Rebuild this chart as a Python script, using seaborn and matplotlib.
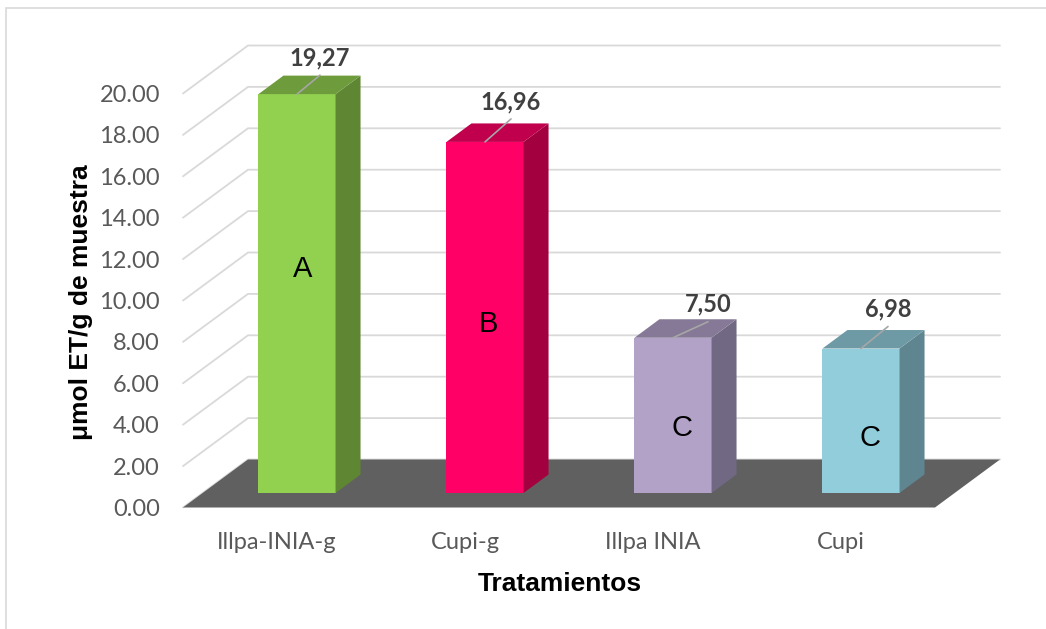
import matplotlib
matplotlib.use("Agg")
import matplotlib.pyplot as plt
import seaborn as sns
from matplotlib.patches import Polygon, Rectangle

# --- data -------------------------------------------------------------
tratamientos = ["Illpa-INIA-g", "Cupi-g", "Illpa INIA", "Cupi"]
valores = [19.27, 16.96, 7.50, 6.98]
etiquetas = ["19,27", "16,96", "7,50", "6,98"]
letras = ["A", "B", "C", "C"]
yticks = [0, 2, 4, 6, 8, 10, 12, 14, 16, 18, 20]

# --- style ------------------------------------------------------------
front_colors = ["#92D050", "#FF0066", "#B3A2C7", "#92CDDC"]
side_colors = ["#5F8733", "#A3003F", "#716883", "#5E8590"]
top_colors = ["#6E9B3B", "#C0004D", "#867997", "#6E9AA6"]
floor_color = "#606060"
grid_color = "#D9D9D9"

# letter placement: baseline height (data units) and horizontal nudge (px)
letra_base = [10.45, 7.8, 2.75, 2.27]
letra_dx = [6, 3, 9, 9]
# leader line vectors for the value labels (px)
leader = [(23, 19), (26, 23), (35, 16), (27, 22)]

W, H, DPI = 1046, 629, 100
sns.set_theme(style="white")
plt.rcParams["font.family"] = ["Lato", "DejaVu Sans"]

fig = plt.figure(figsize=(W / DPI, H / DPI), dpi=DPI)
fig.patch.set_facecolor("white")

# floor front edge: left 183px, right 935px, baseline 507.5px; 20.7 px per unit
px_unit_y = 20.7
y_top = 24
x0_px, x1_px, base_px = 183, 935, 507.5
ax = fig.add_axes([x0_px / W, 1 - base_px / H,
                   (x1_px - x0_px) / W, y_top * px_unit_y / H])
sx = (x1_px - x0_px) / 4.0   # px per category
sy = px_unit_y               # px per value unit


def off(dx, dy):
    """pixel offset -> data offset"""
    return dx / sx, dy / sy


Dx, Dy = off(65, 48)      # full depth of the floor
Fx, Fy = off(20, 14.5)    # bar front plane
Bx, By = off(25, 18.5)    # bar depth

sns.barplot(x=tratamientos, y=valores, hue=tratamientos, palette=front_colors,
            width=0.41, saturation=1, legend=False, ax=ax,
            edgecolor="none", linewidth=0, zorder=4)
bars = list(ax.patches)

ax.set_xlim(-0.5, 3.5)
ax.set_ylim(0, y_top)
ax.set_yticks(yticks)
ax.set_yticklabels([f"{v:.2f}" for v in yticks])
for s in ax.spines.values():
    s.set_visible(False)
ax.patch.set_alpha(0)
ax.tick_params(axis="y", length=0, pad=16.6, labelsize=17, labelcolor="#595959")
ax.tick_params(axis="x", length=0, pad=17.4, labelsize=17, labelcolor="#595959")

# gridlines: diagonal on the side wall, horizontal on the back wall
for v in yticks:
    ax.plot([-0.5, -0.5 + Dx, 3.5 + Dx], [v, v + Dy, v + Dy],
            color=grid_color, lw=1.3, zorder=1, clip_on=False,
            solid_joinstyle="miter")

# floor
ax.add_patch(Polygon([(-0.5, 0), (3.5, 0), (3.5 + Dx, Dy), (-0.5 + Dx, Dy)],
                     closed=True, facecolor=floor_color, edgecolor="none",
                     zorder=2, clip_on=False))

# 3-D bars built on the seaborn bars
for i, bar in enumerate(bars):
    bx0, w, h = bar.get_x(), bar.get_width(), bar.get_height()
    xl, yb = bx0 + Fx, Fy
    bar.set_x(xl)
    bar.set_y(yb)
    bar.set_clip_on(False)
    xr, yt = xl + w, yb + h
    ax.add_patch(Polygon([(xr, yb), (xr + Bx, yb + By), (xr + Bx, yt + By), (xr, yt)],
                         closed=True, facecolor=side_colors[i], edgecolor="none",
                         zorder=4, clip_on=False))
    ax.add_patch(Polygon([(xl, yt), (xr, yt), (xr + Bx, yt + By), (xl + Bx, yt + By)],
                         closed=True, facecolor=top_colors[i], edgecolor="none",
                         zorder=4, clip_on=False))

    xc = xl + w / 2
    lx, ly = off(*leader[i])
    ax.plot([xc, xc + lx], [yt, yt + ly], color="#A6A6A6", lw=1.2,
            zorder=5, clip_on=False)
    ax.annotate(etiquetas[i], xy=(xc + lx, yt + ly), xytext=(0, 10),
                textcoords="offset pixels", ha="center", va="baseline",
                fontsize=17, fontweight="bold", color="#404040", zorder=6,
                annotation_clip=False)

    ax.text(xc + off(letra_dx[i], 0)[0], yb + letra_base[i], letras[i],
            ha="center", va="baseline", fontsize=21, color="black",
            family=["Liberation Sans", "DejaVu Sans"], zorder=6)

ax.set_xlabel("Tratamientos", fontsize=19, fontweight="bold", color="black",
              family=["Liberation Sans", "DejaVu Sans"])
ax.set_ylabel("μmol ET/g de muestra", fontsize=19, fontweight="bold",
              color="black", family=["Liberation Sans", "DejaVu Sans"])
ax.xaxis.set_label_coords((560 - x0_px) / (x1_px - x0_px),
                          (base_px - 571.7) / (y_top * px_unit_y))
ax.yaxis.set_label_coords((93 - x0_px) / (x1_px - x0_px),
                          (base_px - 302) / (y_top * px_unit_y))

# chart frame
fig.add_artist(Rectangle((6 / W, -0.1), 1.2, 1 - 8 / H + 0.1, fill=False,
                         edgecolor="#D9D9D9", lw=1.2,
                         transform=fig.transFigure, zorder=0))

fig.savefig("out.png", dpi=DPI)
